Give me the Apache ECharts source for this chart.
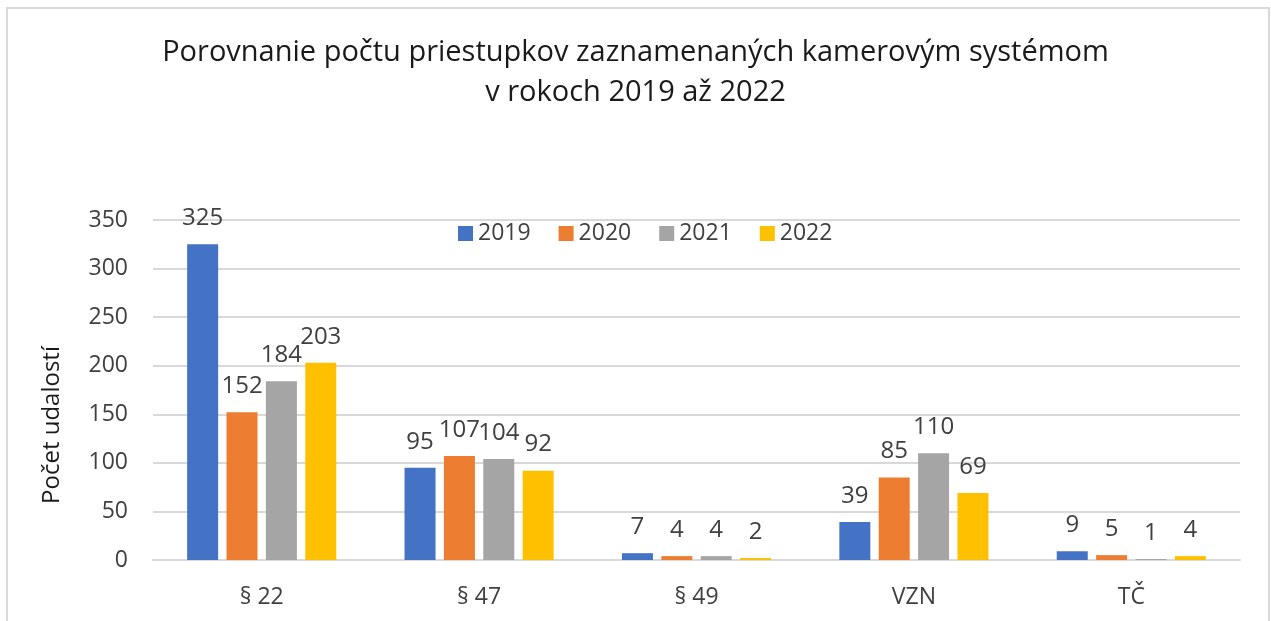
<!DOCTYPE html>
<html>
<head>
<meta charset="utf-8">
<script src="https://cdn.jsdelivr.net/npm/echarts@6/dist/echarts.min.js"></script>
<style>html,body{margin:0;padding:0;background:#fff;}#c{width:1271px;height:621px;}</style>
</head>
<body>
<div id="c"></div>
<script>
const categories = ['§ 22', '§ 47', '§ 49', 'VZN', 'TČ'];
const seriesNames = ['2019', '2020', '2021', '2022'];
const values2019 = [325, 95, 7, 39, 9];
const values2020 = [152, 107, 4, 85, 5];
const values2021 = [184, 104, 4, 110, 1];
const values2022 = [203, 92, 2, 69, 4];
const colors = ['#4472C4', '#ED7D31', '#A5A5A5', '#FFC000'];
const titleText = 'Porovnanie počtu priestupkov zaznamenaných kamerovým systémom\nv rokoch 2019 až 2022';
const yAxisName = 'Počet udalostí';

const font = '"Open Sans", "Noto Sans", sans-serif';
const allValues = [values2019, values2020, values2021, values2022];
const chart = echarts.init(document.getElementById('c'));
chart.setOption({
  animation: false,
  backgroundColor: '#fff',
  title: {
    text: titleText, left: 'center', top: 28,
    textStyle: { fontFamily: font, fontSize: 29, fontWeight: 'normal', color: '#1a1a1a', lineHeight: 40 }
  },
  legend: {
    top: 217, left: 453, itemWidth: 15, itemHeight: 15, itemGap: 28,
    icon: 'rect',
    textStyle: { fontFamily: font, fontSize: 23, color: '#404040' }
  },
  grid: { left: 153, right: 31, top: 220, bottom: 61 },
  xAxis: {
    type: 'category', data: categories,
    axisLine: { lineStyle: { color: '#d9d9d9', width: 2 } },
    axisTick: { show: false },
    axisLabel: { fontFamily: font, fontSize: 23, color: '#404040', margin: 26 }
  },
  yAxis: {
    type: 'value', min: 0, max: 350, interval: 50,
    axisLine: { show: false }, axisTick: { show: false },
    splitLine: { lineStyle: { color: '#d9d9d9', width: 2 } },
    axisLabel: { fontFamily: font, fontSize: 23, color: '#404040', margin: 25 }
  },
  graphic: [
    { type: 'rect', shape: { x: 7, y: 8, width: 1262, height: 640 }, style: { fill: 'none', stroke: '#d9d9d9', lineWidth: 2 }, silent: true },
    { type: 'text', x: 52, y: 425, rotation: Math.PI / 2,
      style: { text: yAxisName, fontFamily: font, fontSize: 24, fill: '#1a1a1a', textAlign: 'center', textVerticalAlign: 'middle' } }
  ],
  series: seriesNames.map((n, i) => ({
    name: n, type: 'bar', data: allValues[i],
    barWidth: 31, barGap: '27%',
    itemStyle: { color: colors[i] },
    label: { show: true, position: 'top', distance: 14, fontFamily: font, fontSize: 24, color: '#404040' }
  }))
});
</script>
</body>
</html>
